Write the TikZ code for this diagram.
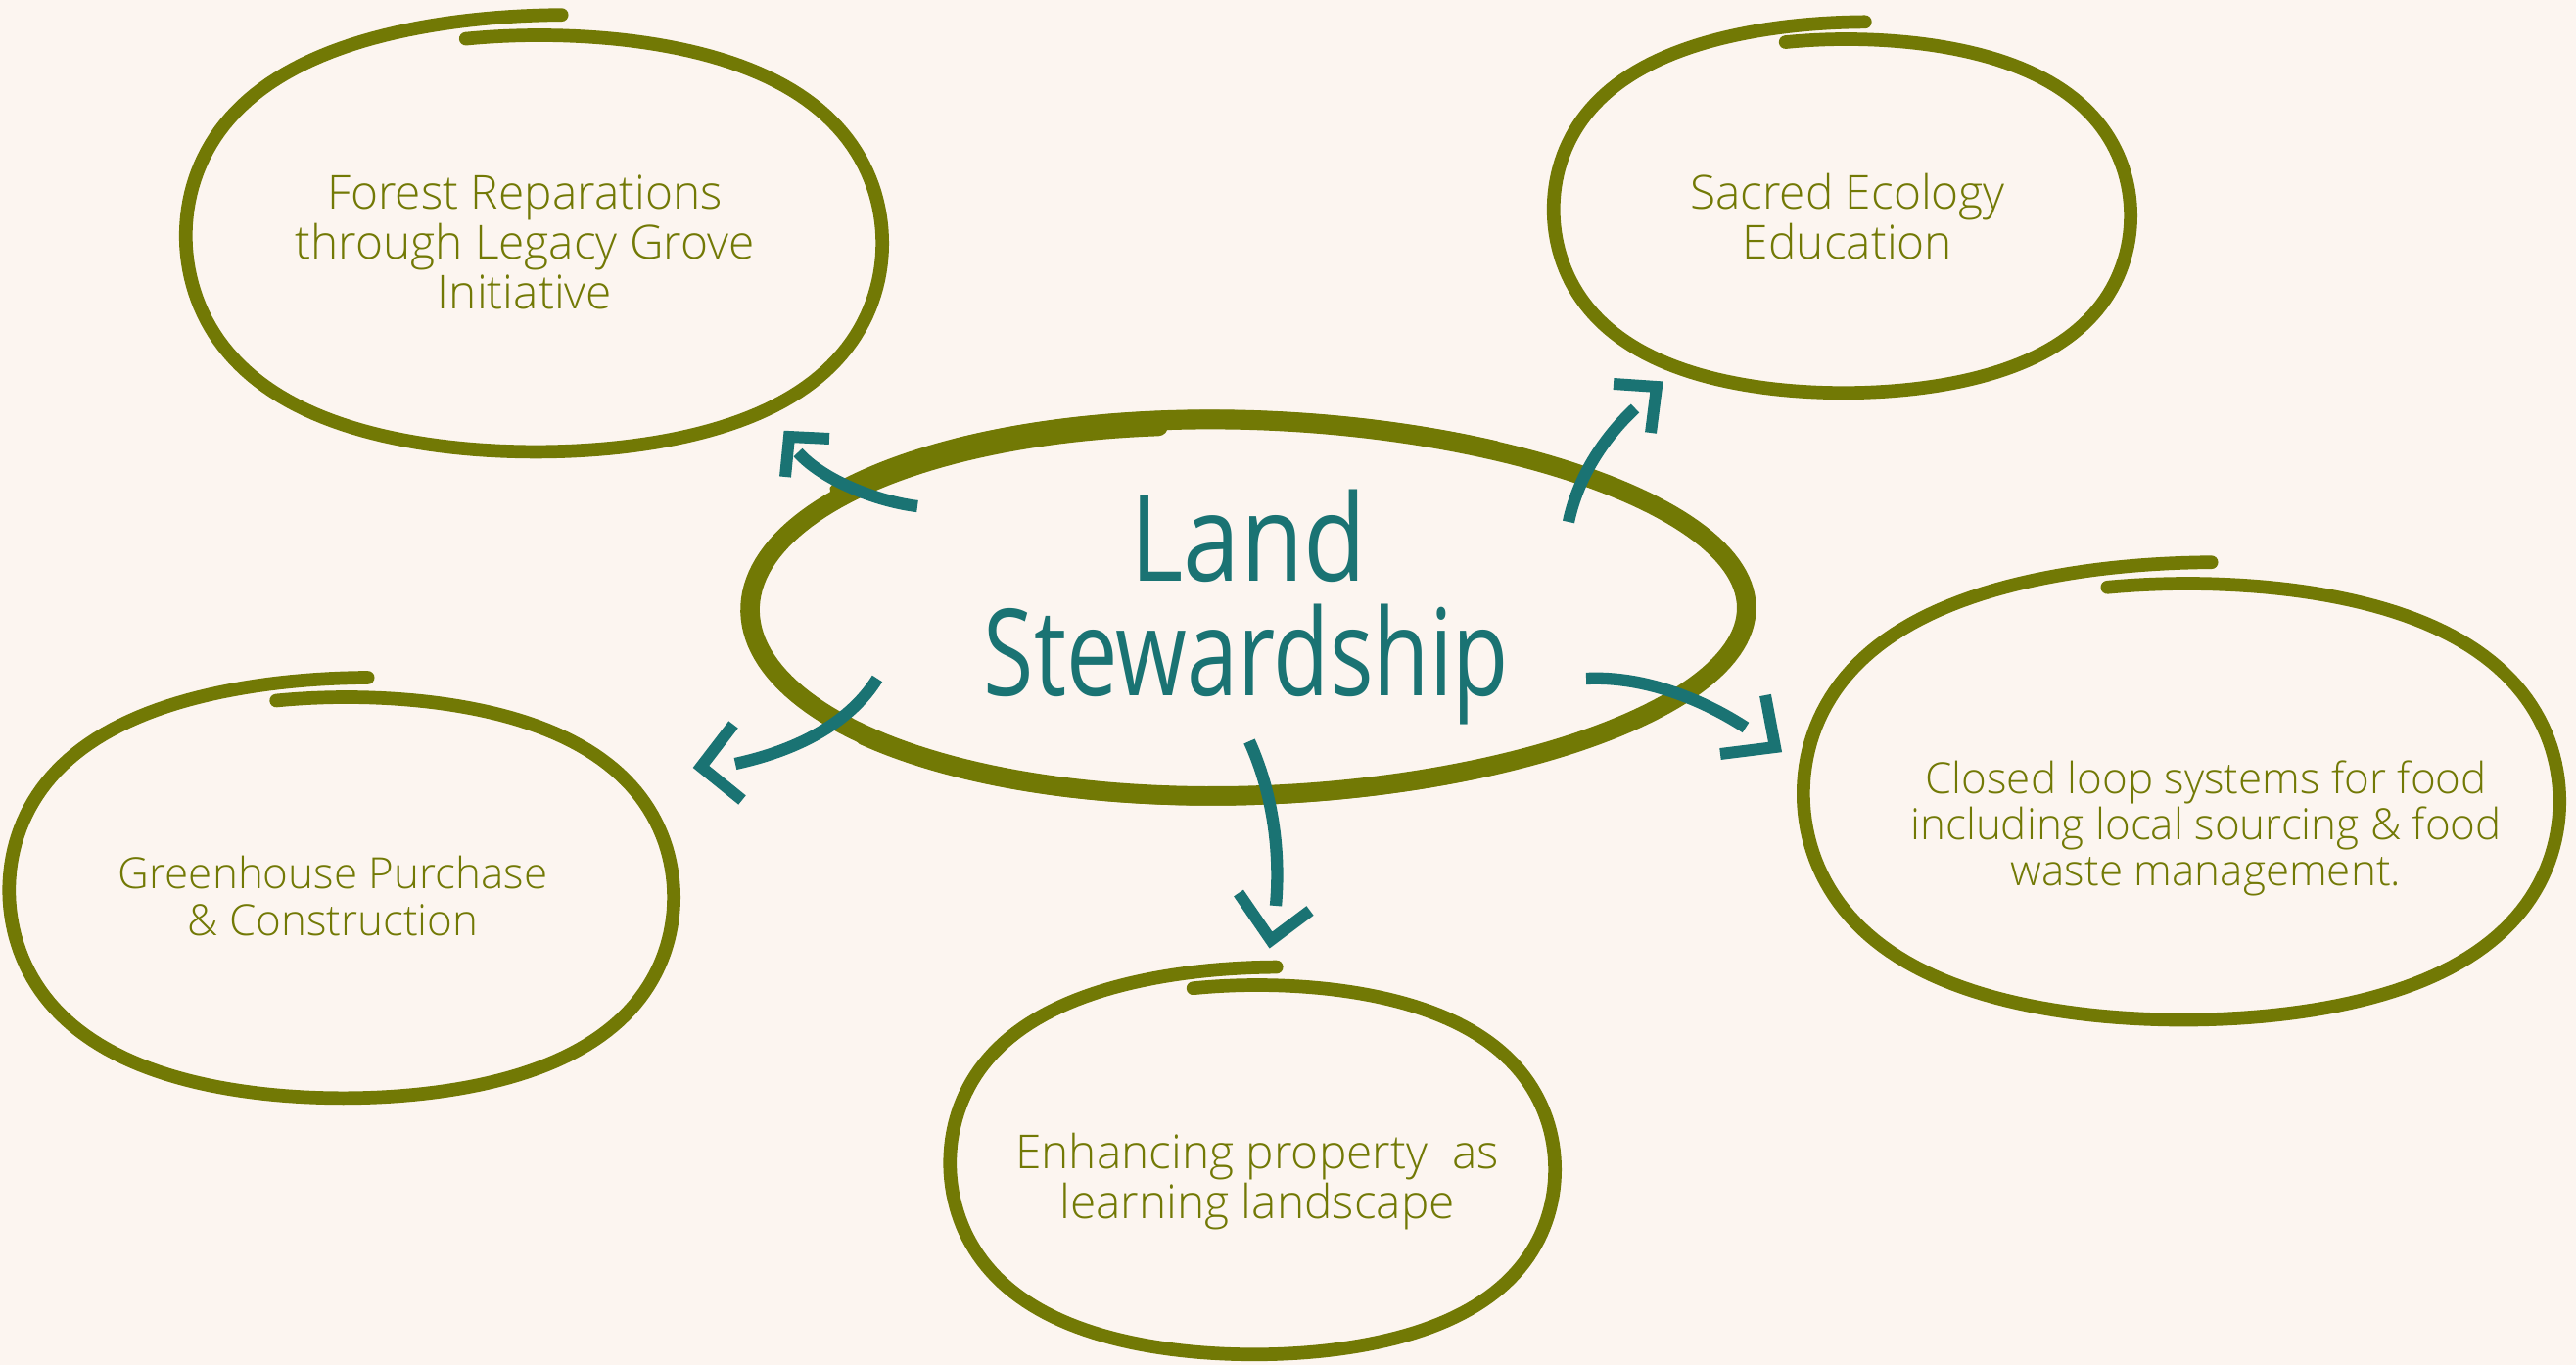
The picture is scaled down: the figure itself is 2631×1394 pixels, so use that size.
\documentclass[tikz,border=0pt]{standalone}
\usepackage{graphicx}
\usepackage{fontspec}
\setmainfont{Open Sans}
\IfFontExistsTF{Open Sans Light}{\newfontfamily\ringfont{Open Sans Light}}{\newfontfamily\ringfont{Open Sans}}
\newfontfamily\handfont{Open Sans}
\definecolor{bgcream}{HTML}{FCF5F0}
\definecolor{olivec}{HTML}{727905}
\definecolor{tealc}{HTML}{1A7373}
\tikzset{
  ringline/.style={draw=olivec, line width=3.9pt, line cap=round, line join=round},
  bigring/.style={draw=olivec, line width=5.6pt, line cap=round, line join=round},
  ringtext/.style={text=olivec, align=center, font=\ringfont\fontsize{13.6}{14.5}\selectfont, inner sep=0pt},
  ringtextsmall/.style={text=olivec, align=center, font=\ringfont\fontsize{12.5}{13.4}\selectfont, inner sep=0pt},
  shaft/.style={draw=tealc, line width=3.5pt, line cap=butt},
  chevron/.style={draw=tealc, line width=3.4pt, line join=miter, line cap=butt},
  handtext/.style={text=tealc, font=\handfont\fontsize{35}{40}\selectfont, inner sep=0pt, anchor=base},
}
% cx cy rx ry start sweep  (slightly squarish, spiralling outwards at the end)
\newcommand{\handring}[6]{%
  \draw[ringline] plot[domain=0:1, samples=200, variable=\pp]
   ({#1+#3*(1+0.1*\pp*\pp*\pp*\pp)*(cos(#5+#6*\pp)-0.02*cos(3*(#5+#6*\pp)))/0.98},
    {#2+#4*(1+0.1*\pp*\pp*\pp*\pp)*(sin(#5+#6*\pp)+0.02*sin(3*(#5+#6*\pp)))/0.98});}
\begin{document}
\begin{tikzpicture}[x=0.01cm,y=-0.01cm]
\useasboundingbox (0,0) rectangle (2631,1394);
\fill[bgcream] (0,0) rectangle (2631,1394);

% outer rings
\handring{551}{248}{350}{212}{258.5}{375}
\handring{1886}{220}{290}{180}{258.5}{375}
\handring{354}{916}{334}{204}{258.5}{375}
\handring{2234}{818}{380}{222}{258.5}{375}
\handring{1284}{1194}{304}{188}{258.5}{375}

% central ring
\draw[bigring] plot[domain=0:1, samples=220, variable=\pp]
  ({1272+512*(1-0.03*\pp*\pp*\pp*\pp)*cos(235+385*\pp)},
   {621+192*(1-0.07*cos(235+385*\pp))*(1-0.03*\pp*\pp*\pp*\pp)*sin(235+385*\pp)});
\draw[bigring, line width=3pt] plot[domain=215:300, samples=60, variable=\pp]
  ({1272+512*cos(\pp)}, {616+192*(1-0.07*cos(\pp))*sin(\pp)});
\draw[bigring, line width=3pt] plot[domain=60:140, samples=60, variable=\pp]
  ({1272+512*cos(\pp)}, {625+192*(1-0.07*cos(\pp))*sin(\pp)});

% texts
\node[ringtext] (forest) at (536,247) {Forest Reparations\\through Legacy Grove\\Initiative};
\node[ringtext] (sacred) at (1887,221) {Sacred Ecology\\Education};
\node[ringtextsmall] (green) at (340,915) {Greenhouse Purchase\\\& Construction};
\node[ringtextsmall] (closed) at (2253,846) {Closed loop systems for food\\including local sourcing \& food\\waste management.};
\node[ringtext] (enh) at (1284,1207) {Enhancing property~~as\\learning landscape};

\node[handtext] (land) at (1275,593) {\scalebox{0.85}[1]{Land}};
\node[handtext] (stew) at (1273,710) {\scalebox{0.76}[1]{Stewardship}};

% arrow coordinates
\coordinate (a1s) at (937,517);  \coordinate (a1e) at (815,462);
\coordinate (a2s) at (1602,533); \coordinate (a2e) at (1670,417);
\coordinate (a3s) at (896,693);  \coordinate (a3e) at (751,780);
\coordinate (a4s) at (1276,757); \coordinate (a4e) at (1303,925);
\coordinate (a5s) at (1620,693); \coordinate (a5e) at (1783,743);

\draw[shaft] (a1s) .. controls (895,512) and (840,490) .. (a1e);
\draw[chevron] (847,448) -- (806,446) -- (802,487);

\draw[shaft] (a2s) .. controls (1612,485) and (1640,445) .. (a2e);
\draw[chevron] (1648,392) -- (1692,395) -- (1686,442);

\draw[shaft] (a3s) .. controls (870,735) and (820,765) .. (a3e);
\draw[chevron] (749,740) -- (716,783) -- (758,817);

\draw[shaft] (a4s) .. controls (1300,810) and (1308,870) .. (a4e);
\draw[chevron] (1265,912) -- (1298,960) -- (1338,930);

\draw[shaft] (a5s) .. controls (1680,690) and (1740,715) .. (a5e);
\draw[chevron] (1803,710) -- (1813,763) -- (1757,770);
\end{tikzpicture}
\end{document}
